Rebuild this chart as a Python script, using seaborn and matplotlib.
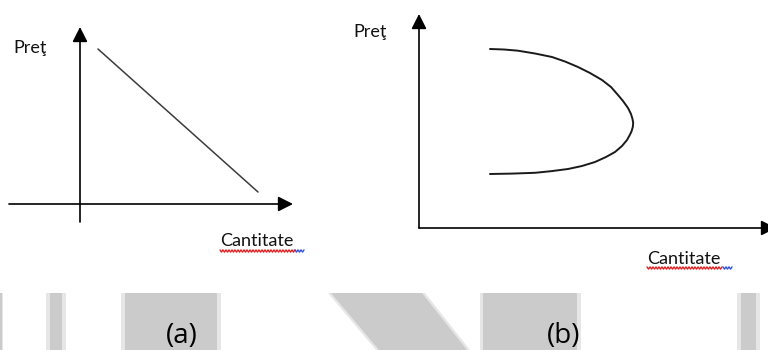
import numpy as np
import matplotlib
matplotlib.use("Agg")
import matplotlib.pyplot as plt
from matplotlib.patches import Polygon, Rectangle
import pandas as pd
import seaborn as sns

# ---- data ----
# Panel (a): straight downward-sloping line (quantity, price)
qty_a = [1.8, 17.8]
price_a = [15.5, 1.2]

# Panel (b): backward-bending curve (quantity, price)
qty_b = [7.1, 8.5, 9.9, 11.6, 13.3, 14.6, 15.9, 17.1, 18.3, 19.2, 19.9, 20.4, 20.9,
         21.2, 21.35, 21.42, 21.38, 21.25, 21.05, 20.8, 20.3, 19.6, 18.7, 17.6,
         16.3, 14.9, 13.2, 11.6, 9.3, 7.1]
price_b = [17.9, 17.85, 17.73, 17.45, 17.1, 16.65, 16.1, 15.5, 14.8, 14.1, 13.3, 12.7, 12.0,
           11.4, 10.9, 10.5, 10.1, 9.65, 9.25, 8.8, 8.2, 7.6, 7.1, 6.6,
           6.2, 5.9, 5.68, 5.52, 5.44, 5.4]

label_price = "Preţ"
label_qty = "Cantitate"
panel_labels = ["(a)", "(b)"]

sns.set_theme(style="white")
plt.rcParams["font.family"] = ["Lato", "DejaVu Sans"]

W, H = 768, 350
fig = plt.figure(figsize=(W / 100, H / 100), dpi=100)
fig.patch.set_facecolor("white")

# background overlay in pixel units for decorative strip
bg = fig.add_axes([0, 0, 1, 1], zorder=0)
bg.set_xlim(0, W)
bg.set_ylim(H, 0)
bg.axis("off")

core = "#cbcbcb"
edge = "#e6e6e6"
top = 293
for (o0, o1, c0, c1) in [(0, 3, 0, 1.5), (46, 66, 50, 62), (121, 221, 125, 217),
                         (480, 581, 483, 577), (737, 760, 741, 756)]:
    bg.add_patch(Rectangle((o0, top), o1 - o0, H - top + 5, facecolor=edge, edgecolor="none"))
    bg.add_patch(Rectangle((c0, top), c1 - c0, H - top + 5, facecolor=core, edgecolor="none"))
bg.add_patch(Polygon([(328, top), (425, top), (470, H), (376, H)], closed=True,
                     facecolor=edge, edgecolor="none"))
bg.add_patch(Polygon([(331, top), (422, top), (467, H), (379, H)], closed=True,
                     facecolor=core, edgecolor="none"))
bg.text(182, 336, panel_labels[0], fontsize=20, ha="center", va="center",
        color="black", family=["Open Sans", "DejaVu Sans"])
bg.text(564, 336, panel_labels[1], fontsize=20, ha="center", va="center",
        color="black", family=["Open Sans", "DejaVu Sans"])


def squiggle(x0, x1, y, color):
    xs = np.arange(x0, x1 + 0.1, 1.5)
    ys = y + np.where(np.arange(len(xs)) % 2 == 0, -1.1, 1.1)
    bg.plot(xs, ys, color=color, lw=1.0)


squiggle(220, 295, 251, "#e02020")
squiggle(295, 305, 251, "#3050e0")
squiggle(647, 723, 268, "#e02020")
squiggle(723, 733, 268, "#3050e0")


def arrow(ax, x0, y0, x1, y1):
    ax.annotate("", xy=(x1, y1), xytext=(x0, y0),
                arrowprops=dict(arrowstyle="-|>,head_length=0.75,head_width=0.38",
                                mutation_scale=12, lw=1.2, color="black",
                                shrinkA=0, shrinkB=0),
                annotation_clip=False)


# ---- panel (a) ----
ax_a = fig.add_axes([0 / W, 1 - 260 / H, 300 / W, 260 / H], zorder=1)
ax_a.set_xlim(-8, 22)
ax_a.set_ylim(-5.6, 20.4)
ax_a.axis("off")
ax_a.patch.set_alpha(0)
arrow(ax_a, -7.1, 0, 21.3, 0)
arrow(ax_a, 0, -1.8, 0, 17.7)
sns.lineplot(x=qty_a, y=price_a, ax=ax_a, color="#3c3c3c", lw=1.1)
ax_a.text(-6.7, 15.6, label_price, fontsize=13, ha="left", va="center", color="#111111")
ax_a.text(14.0, -3.7, label_qty, fontsize=13, ha="left", va="center", color="#111111")

# ---- panel (b) ----
ax_b = fig.add_axes([330 / W, 1 - 285 / H, 438 / W, 285 / H], zorder=1)
ax_b.set_xlim(-8.9, 34.9)
ax_b.set_ylim(-5.7, 22.8)
ax_b.axis("off")
ax_b.patch.set_alpha(0)
arrow(ax_b, 0, 0, 35.7, 0)
arrow(ax_b, 0, 0, 0, 21.4)
df_b = pd.DataFrame({"q": qty_b, "p": price_b})
sns.lineplot(data=df_b, x="q", y="p", sort=False, estimator=None, ax=ax_b,
             color="#1a1a1a", lw=1.4, solid_joinstyle="round")
ax_b.text(-6.6, 19.6, label_price, fontsize=13, ha="left", va="center", color="#111111")
ax_b.text(22.8, -3.1, label_qty, fontsize=13, ha="left", va="center", color="#111111")

fig.savefig("out.png", dpi=100, facecolor="white")
